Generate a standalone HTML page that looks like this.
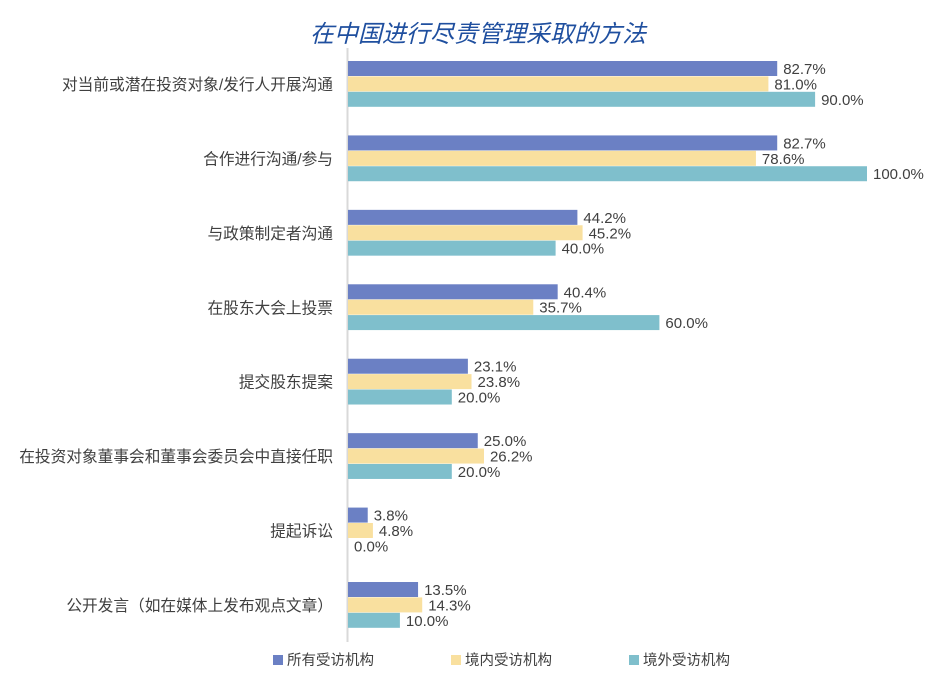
<!DOCTYPE html>
<html><head><meta charset="utf-8"><style>
body{margin:0;background:#fff}
svg text{font-family:"Liberation Sans","Noto Sans CJK SC",sans-serif}
</style></head><body>
<svg width="945" height="676" xmlns="http://www.w3.org/2000/svg">
<rect width="945" height="676" fill="#fff"/>
<text x="478" y="42" text-anchor="middle" font-size="24" font-style="italic" fill="#1f4f9f">在中国进行尽责管理采取的方法</text>
<line x1="347.5" y1="48" x2="347.5" y2="642" stroke="#d9d9d9" stroke-width="2"/>
<g id="bars"></g>
<rect x="273" y="655" width="10" height="10" fill="#6b80c4"/>
<text x="287" y="665" font-size="14.5" fill="#404040">所有受访机构</text>
<rect x="451" y="655" width="10" height="10" fill="#f9e09f"/>
<text x="465" y="665" font-size="14.5" fill="#404040">境内受访机构</text>
<rect x="629" y="655" width="10" height="10" fill="#7fbfcc"/>
<text x="643" y="665" font-size="14.5" fill="#404040">境外受访机构</text>
</svg>
<script>
const cats=["对当前或潜在投资对象/发行人开展沟通","合作进行沟通/参与","与政策制定者沟通","在股东大会上投票","提交股东提案","在投资对象董事会和董事会委员会中直接任职","提起诉讼","公开发言（如在媒体上发布观点文章）"];
const d=[[82.7,81.0,90.0],[82.7,78.6,100.0],[44.2,45.2,40.0],[40.4,35.7,60.0],[23.1,23.8,20.0],[25.0,26.2,20.0],[3.8,4.8,0.0],[13.5,14.3,10.0]];
const cols=["#6b80c4","#f9e09f","#7fbfcc"];
let s="";
cats.forEach((c,i)=>{const t=61+i*74.43;
s+=`<text x="333" y="${t+29}" text-anchor="end" font-size="15.7" fill="#404040">${c}</text>`;
d[i].forEach((v,j)=>{const y=t+j*15.4,w=v*5.19;
s+=`<rect x="348" y="${y}" width="${w}" height="15" fill="${cols[j]}"/>`;
s+=`<text x="${348+w+6}" y="${y+13}" font-size="15" fill="#404040">${v.toFixed(1)}%</text>`;});});
document.getElementById("bars").innerHTML=s;
</script>
</body></html>
